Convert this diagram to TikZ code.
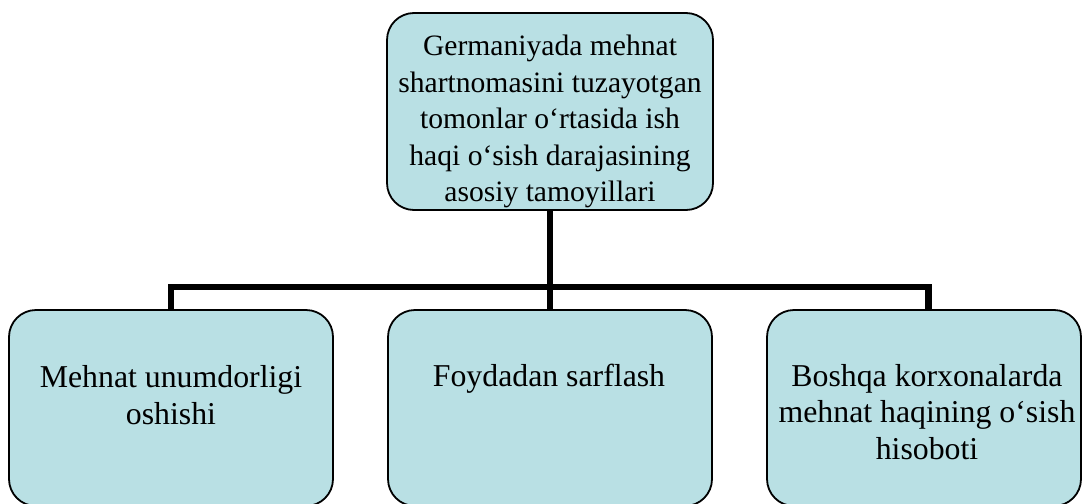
\documentclass[tikz,border=0pt]{standalone}
\usepackage{fontspec}
\setmainfont{Liberation Serif}
\definecolor{boxfill}{HTML}{B9E0E4}
\tikzset{
  box/.style={draw=black, line width=1.8pt, fill=boxfill, rounded corners=27pt, inner sep=0pt},
  txt/.style={anchor=north, inner sep=0pt, align=center, font=\fontsize{29.6}{36.5}\selectfont},
  btxt/.style={anchor=north, inner sep=0pt, align=center, font=\fontsize{31.8}{36.7}\selectfont},
  conn/.style={draw=black, line width=6.5pt, line join=miter}
}
\begin{document}
\begin{tikzpicture}[x=1pt,y=-1pt]
\useasboundingbox (0,0) rectangle (1083,503);
\clip (0,0) rectangle (1083,503);
\node[box, minimum width=326pt, minimum height=197pt] (top) at (550,111.5) {};
\node[box, minimum width=324pt, minimum height=196pt] (left) at (171,408) {};
\node[box, minimum width=324pt, minimum height=196pt] (mid) at (550,408) {};
\node[box, minimum width=314pt, minimum height=196pt] (right) at (924,408) {};
\coordinate (j) at (550,287);
\coordinate (rc) at (928.5,310);
\draw[conn] (top.south) -- (mid.north);
\draw[conn] (left.north) |- (rc |- j) -- (rc);
\node[txt] (ttop) at (550,35) {Germaniyada mehnat\\shartnomasini tuzayotgan\\tomonlar o‘rtasida ish\\haqi o‘sish darajasining\\asosiy tamoyillari};
\node[btxt] (tleft) at (171,365.5) {Mehnat unumdorligi\\oshishi};
\node[btxt] (tmid) at (549,364) {Foydadan sarflash};
\node[btxt] (tright) at (927,364) {Boshqa korxonalarda\\mehnat haqining o‘sish\\hisoboti};
\end{tikzpicture}
\end{document}
